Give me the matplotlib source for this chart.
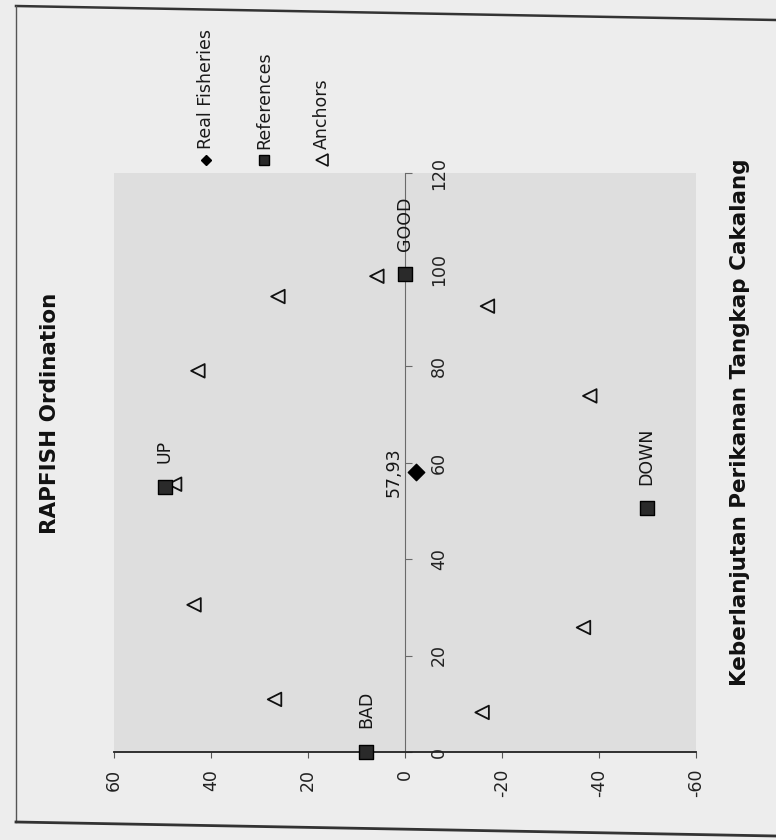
import matplotlib.pyplot as plt
from matplotlib.lines import Line2D

# ordination scores (x = sustainability axis, y = second axis)
real_x = [57.93]
real_y = [-2.2]

ref_names = ['BAD', 'GOOD', 'UP', 'DOWN']
ref_x = [0, 99, 55, 50.5]
ref_y = [8, 0, 49.5, -49.8]

anchor_x = [98.6, 94.4, 79, 92.4, 55.5, 73.8, 30.5, 25.8, 10.9, 8.2]
anchor_y = [5.8, 26.2, 42.7, -17, 47.5, -38.1, 43.5, -36.8, 26.9, -15.9]

xticks = [0, 20, 40, 60, 80, 100, 120]
yticks = [60, 40, 20, 0, -20, -40, -60]

legend_names = ['Real Fisheries', 'References', 'Anchors']

W, H = 776, 840
fig = plt.figure(figsize=(W / 100, H / 100), dpi=100)
fig.patch.set_facecolor('#ededed')

# page is turned on its side: ordination x runs up, y runs left
ax = fig.add_axes([114 / W, 1 - 752 / H, (696 - 114) / W, (752 - 173) / H])
ax.set_facecolor('#dedede')
ax.set_xlim(60, -60)
ax.set_ylim(0, 120)

ax.scatter(anchor_y, anchor_x, marker='<', s=95, facecolor='none',
           edgecolor='#111111', linewidth=1.3, zorder=3)
ax.scatter(ref_y, ref_x, marker='s', s=100, color='#2a2a2a',
           edgecolor='black', linewidth=1, zorder=4, clip_on=False)
ax.scatter(real_y, real_x, marker='D', s=70, color='black', zorder=5)

for name, xv, yv in zip(ref_names, ref_x, ref_y):
    ax.annotate(name, (yv, xv), xytext=(0, 17), textcoords='offset points',
                rotation=90, ha='center', va='bottom', fontsize=12.5,
                color='#151515', zorder=6)
real_label = ('%.2f' % real_x[0]).replace('.', ',')
ax.annotate(real_label, (real_y[0], real_x[0]), xytext=(-9, 0),
            textcoords='offset points', rotation=90, ha='right', va='center',
            fontsize=12.5, color='#151515')

for s in ['top', 'left']:
    ax.spines[s].set_visible(False)
ax.spines['right'].set_position(('data', 0))
ax.spines['right'].set_color('#6a6a6a')
ax.spines['bottom'].set_color('#222222')
ax.spines['bottom'].set_linewidth(1.3)

ax.yaxis.set_ticks_position('right')
ax.set_yticks(xticks, [str(v) for v in xticks])
ax.set_xticks(yticks, [str(v) for v in yticks])
ax.tick_params(axis='y', direction='out', length=5, pad=13, colors='#6a6a6a',
               labelcolor='#222222', labelsize=12.5, labelrotation=90)
ax.tick_params(axis='x', direction='out', length=4, pad=8, colors='#555555',
               labelcolor='#222222', labelsize=12.5, labelrotation=90)
for lab in ax.get_yticklabels():
    lab.set_va('center')

fig.text(50 / W, 1 - 413 / H, 'RAPFISH Ordination', rotation=90,
         ha='center', va='center', fontsize=15.5, fontweight='bold', color='#111111')
fig.text(740 / W, 1 - 422 / H, 'Keberlanjutan Perikanan Tangkap Cakalang',
         rotation=90, ha='center', va='center', fontsize=15.5,
         fontweight='bold', color='#111111')

# legend drawn by hand so the entries can be turned too
leg_px = [206, 264, 322]
leg_style = [dict(marker='D', markersize=5, color='black'),
             dict(marker='s', markersize=7, color='#2a2a2a', markeredgecolor='black'),
             dict(marker='<', markersize=8, markerfacecolor='none',
                  markeredgecolor='#111111', markeredgewidth=1.2)]
for name, px, st in zip(legend_names, leg_px, leg_style):
    fig.add_artist(Line2D([px / W], [1 - 160 / H], transform=fig.transFigure,
                          linestyle='none', **st))
    fig.text(px / W, 1 - 149 / H, name, rotation=90, ha='center', va='bottom',
             fontsize=12.5, color='#1a1a1a')

# chart border
fig.add_artist(Line2D([16 / W, 1], [1 - 6 / H, 1 - 20 / H], transform=fig.transFigure,
                      color='#333333', linewidth=1.8))
fig.add_artist(Line2D([16 / W, 16 / W], [1 - 6 / H, 1 - 822 / H], transform=fig.transFigure,
                      color='#555555', linewidth=1))
fig.add_artist(Line2D([16 / W, 1], [1 - 822 / H, 1 - 836 / H], transform=fig.transFigure,
                      color='#333333', linewidth=2))

fig.savefig('out.png', dpi=100, facecolor=fig.get_facecolor())
